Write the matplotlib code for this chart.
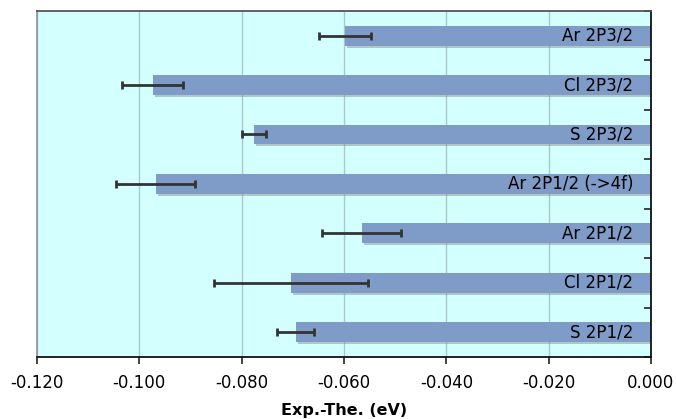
import matplotlib
matplotlib.use("Agg")
import matplotlib.pyplot as plt
import matplotlib.patheffects as pe
import numpy as np

labels = ["Ar 2P3/2", "Cl 2P3/2", "S 2P3/2", "Ar 2P1/2 (->4f)",
          "Ar 2P1/2", "Cl 2P1/2", "S 2P1/2"]
values = [-0.0598, -0.0974, -0.0776, -0.0968, -0.0565, -0.0704, -0.0694]
errors = [0.0050, 0.0060, 0.0023, 0.0077, 0.0077, 0.0151, 0.0036]
xticks = [-0.120, -0.100, -0.080, -0.060, -0.040, -0.020, 0.000]

fig = plt.figure(figsize=(6.76, 4.19), dpi=100)
ax = fig.add_axes([0.0547, 0.148, 0.9083, 0.826])
ax.set_facecolor("#D4FFFF")

y = np.arange(len(labels))
bars = ax.barh(y, values, height=0.4, color="#7F9BC8", zorder=2)
for b in bars:
    b.set_path_effects([pe.SimplePatchShadow(offset=(1.5, -1.5), shadow_rgbFace="#909090", alpha=0.5),
                        pe.Normal()])
ax.errorbar(values, y, xerr=errors, fmt="none", ecolor="#333333",
            elinewidth=2, capsize=3, capthick=2, zorder=3)

for yi, lab in zip(y, labels):
    ax.text(-0.0035, yi, lab, ha="right", va="center", fontsize=12,
            color="#000000", zorder=4)

ax.set_xlim(-0.12, 0)
ax.set_ylim(len(labels) - 0.5, -0.5)
ax.set_xticks(xticks)
ax.set_xticklabels(["%.3f" % v for v in xticks], fontsize=12)
ax.grid(axis="x", color="#A8C8C8", linewidth=1, zorder=0)
ax.set_axisbelow(True)

ax.yaxis.tick_right()
ax.set_yticks(np.arange(-0.5, len(labels), 1.0))
ax.set_yticklabels([])
ax.tick_params(axis="y", direction="in", length=5, width=1.2, color="#222222")
ax.tick_params(axis="x", direction="out", length=5, width=1.2, color="#222222", pad=7)

ax.spines["left"].set_color("#999999")
ax.spines["top"].set_color("#555555")
ax.spines["right"].set_color("#111111")
ax.spines["bottom"].set_color("#111111")
for s in ax.spines.values():
    s.set_linewidth(1.3)

ax.set_xlabel("Exp.-The. (eV)", fontsize=11.5, fontweight="bold", labelpad=8)

fig.savefig("out.png", dpi=100)
